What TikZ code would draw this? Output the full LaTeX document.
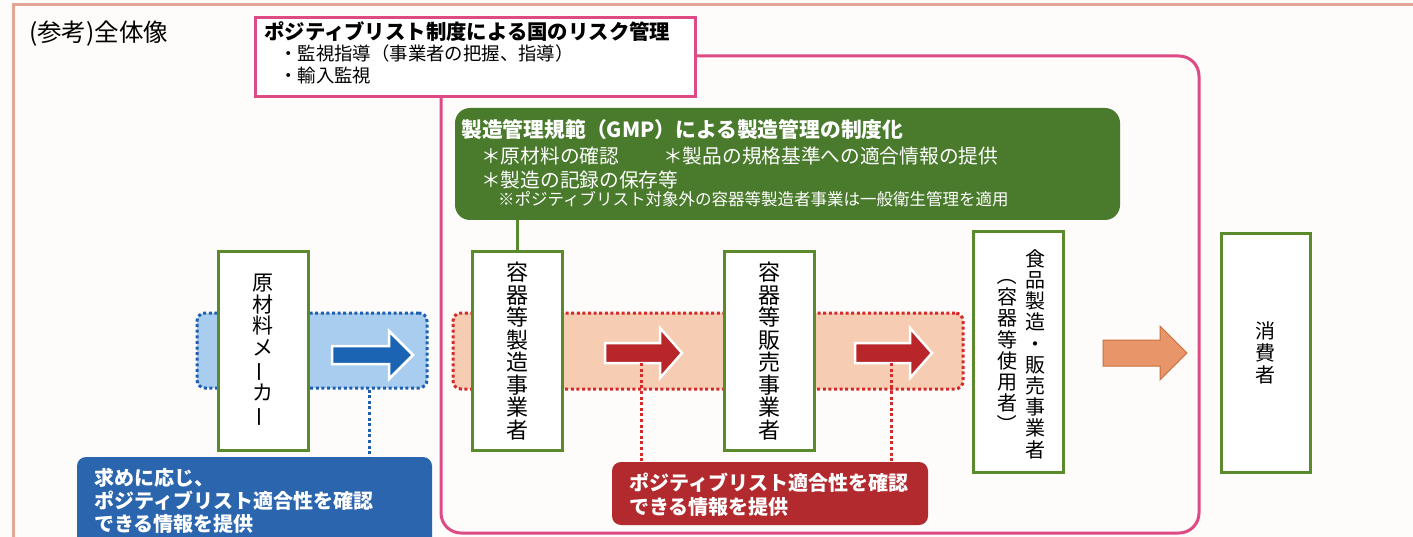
\documentclass[tikz,border=0pt]{standalone}
\usepackage{fontspec}
\usepackage{graphicx}
\setmainfont{Noto Sans CJK JP}
\definecolor{frameC}{HTML}{E2A596}
\definecolor{pinkC}{HTML}{DE4A84}
\definecolor{gmpC}{HTML}{4A7A2C}
\definecolor{boxC}{HTML}{5A8A2C}
\definecolor{bandB}{HTML}{A9CDEE}
\definecolor{dotB}{HTML}{1F5FB0}
\definecolor{arrB}{HTML}{1B64B4}
\definecolor{boxB}{HTML}{2B65AE}
\definecolor{bandR}{HTML}{F6CDB2}
\definecolor{dotR}{HTML}{D42A2A}
\definecolor{arrR}{HTML}{B8262A}
\definecolor{boxR}{HTML}{B2292E}
\definecolor{arrO}{HTML}{E9956A}
\definecolor{arrOl}{HTML}{C8703E}
\definecolor{paper}{HTML}{FDFCFA}
\newcommand{\vbar}{\rotatebox[origin=c]{90}{ー}}
\newcommand{\vlp}{\rotatebox[origin=c]{-90}{（}}
\newcommand{\vrp}{\rotatebox[origin=c]{-90}{）}}
\newcommand{\blkarrow}[7]{\path[#1] (#2,{#5-#6}) -- (#3,{#5-#6}) -- (#3,{#5-#7}) -- (#4,#5) -- (#3,{#5+#7}) -- (#3,{#5+#6}) -- (#2,{#5+#6}) -- cycle;}
\tikzset{
  entity/.style={draw=boxC, line width=3pt, fill=white, inner sep=0pt, align=center},
  band/.style={line width=3pt, dash pattern=on 3pt off 2.6pt, rounded corners=8pt, inner sep=0pt},
  txt/.style={inner sep=0pt, anchor=base west},
  wtxt/.style={txt, text=white},
  info/.style={rounded corners=9pt, inner sep=0pt},
}
\begin{document}
\begin{tikzpicture}[x=1pt,y=-1pt]
\useasboundingbox (0,0) rectangle (1413,537);
\fill[paper] (0,0) rectangle (1413,537);
% outer frame
\draw[frameC, line width=3pt] (13,5) rectangle (1440,570);
\node[txt, font=\fontsize{24.5}{27}\selectfont] (title) at (29,42) {(参考)全体像};
% big pink region
\draw[pinkC, line width=3pt, rounded corners=20pt] (441,56) rectangle (1199,533);
% risk box
\node[draw=pinkC, line width=3pt, fill=white, minimum width=440pt, minimum height=79pt, inner sep=0pt] (risk) at (475,57.5) {};
\node[txt, font=\fontsize{20.4}{23}\bfseries\selectfont] (riskT) at (264,39.5) {ポジティブリスト制度による国のリスク管理};
\node[txt, font=\fontsize{18.4}{21}\selectfont] (riskA) at (279,61) {・監視指導（事業者の把握、指導）};
\node[txt, font=\fontsize{18.4}{21}\selectfont] (riskB) at (279,83) {・輸入監視};
% GMP box
\node[fill=gmpC, rounded corners=15pt, minimum width=665pt, minimum height=112pt, inner sep=0pt] (gmp) at (787.5,164) {};
\node[wtxt, font=\fontsize{20.8}{23}\bfseries\selectfont] (gmpT) at (461,138) {製造管理規範（GMP）による製造管理の制度化};
\node[wtxt, font=\fontsize{19.7}{22}\selectfont] (gmpA) at (481,163.5) {＊原材料の確認};
\node[wtxt, font=\fontsize{19.7}{22}\selectfont] (gmpB) at (663,163.5) {＊製品の規格基準への適合情報の提供};
\node[wtxt, font=\fontsize{19.7}{22}\selectfont] (gmpC) at (481,187.5) {＊製造の記録の保存等};
\node[wtxt, font=\fontsize{16.5}{19}\selectfont] (gmpD) at (498,206) {※ポジティブリスト対象外の容器等製造者事業は一般衛生管理を適用};
% bands
\node[band, draw=dotB, fill=bandB, minimum width=230pt, minimum height=75pt] (bband) at (312,350.5) {};
\node[band, draw=dotR, fill=bandR, minimum width=510pt, minimum height=76pt] (rband) at (708,351) {};
% connector GMP -> maker
\coordinate (gx) at (517,0);
\draw[boxC, line width=3pt] (gmp.south -| gx) -- (517,252);
% entity boxes
\node[entity, minimum width=90pt, minimum height=198pt, font=\fontsize{21}{21.5}\selectfont] (mfr) at (263,351) {原\\材\\料\\メ\\\vbar\\カ\\\vbar};
\node[entity, minimum width=90pt, minimum height=198pt, font=\fontsize{22}{22.5}\selectfont] (mk1) at (517,351) {容\\器\\等\\製\\造\\事\\業\\者};
\node[entity, minimum width=90pt, minimum height=198pt, font=\fontsize{22}{22.5}\selectfont] (mk2) at (769,351) {容\\器\\等\\販\\売\\事\\業\\者};
\node[entity, minimum width=90pt, minimum height=240pt] (food) at (1018,352) {};
\node[inner sep=0pt, align=center, font=\fontsize{20}{21.2}\selectfont] (foodA) at (1035,354) {食\\品\\製\\造\\・\\販\\売\\事\\業\\者};
\node[inner sep=0pt, align=center, font=\fontsize{20}{21.2}\selectfont] (foodB) at (1007,350) {\vlp\\容\\器\\等\\使\\用\\者\\\vrp};
\node[entity, minimum width=89pt, minimum height=238pt, font=\fontsize{20}{21.7}\selectfont] (cons) at (1265.5,353) {消\\費\\者};
% block arrows
\blkarrow{fill=arrB, draw=white, line width=2.5pt, line join=miter}{332}{389}{413}{355}{9}{24}
\blkarrow{fill=arrR, draw=white, line width=2.5pt, line join=miter}{605}{660}{682}{353}{10}{25}
\blkarrow{fill=arrR, draw=white, line width=2.5pt, line join=miter}{855}{910}{932}{353}{10}{25}
\blkarrow{fill=arrO, draw=arrOl, line width=1pt}{1103}{1160}{1187}{353}{13}{27}
% info boxes
\node[info, fill=boxB, minimum width=355pt, minimum height=100pt] (binfo) at (254.5,507) {};
\node[wtxt, font=\fontsize{20}{23}\bfseries\selectfont] (binfoA) at (94,485.5) {求めに応じ、};
\node[wtxt, font=\fontsize{20}{23}\bfseries\selectfont] (binfoB) at (94,508) {ポジティブリスト適合性を確認};
\node[wtxt, font=\fontsize{20}{23}\bfseries\selectfont] (binfoC) at (94,531) {できる情報を提供};
\node[info, fill=boxR, minimum width=316pt, minimum height=63pt] (rinfo) at (770,493.5) {};
\node[wtxt, font=\fontsize{20}{23}\bfseries\selectfont] (rinfoA) at (629,490.5) {ポジティブリスト適合性を確認};
\node[wtxt, font=\fontsize{20}{23}\bfseries\selectfont] (rinfoB) at (629,514.5) {できる情報を提供};
% dotted connectors
\coordinate (bx) at (369,0);
\coordinate (rx1) at (641,363);
\coordinate (rx2) at (891,363);
\draw[dotB, line width=3pt, dash pattern=on 3pt off 2.6pt] (bband.south -| bx) -- (binfo.north -| bx);
\draw[dotR, line width=3pt, dash pattern=on 3pt off 2.6pt] (rx1) -- (rinfo.north -| rx1);
\draw[dotR, line width=3pt, dash pattern=on 3pt off 2.6pt] (rx2) -- (rinfo.north -| rx2);
\end{tikzpicture}
\end{document}
